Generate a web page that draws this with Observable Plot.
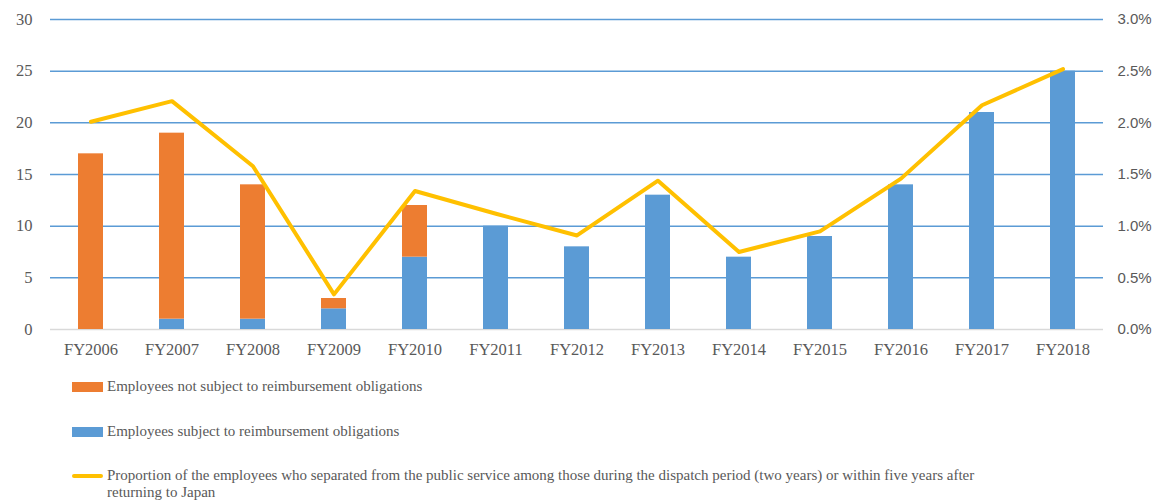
<!DOCTYPE html>
<html><head><meta charset="utf-8">
<script src="https://cdn.jsdelivr.net/npm/d3@7"></script>
<script src="https://cdn.jsdelivr.net/npm/@observablehq/plot@0.6"></script>
<style>
html,body{margin:0;padding:0;background:#fff;overflow:hidden;width:1153px;}
#legend{font-family:"Liberation Serif","Times New Roman",serif;font-size:15px;color:#595959;position:relative;}
.row{position:absolute;left:72px;display:flex;align-items:flex-start;}
.sw{width:31px;height:10px;margin-right:4px;flex:none;}
.ln{width:31px;height:4px;border-radius:2px;background:#ffc000;margin-right:4px;flex:none;}
</style></head>
<body>
<div id="chart"></div>
<div id="legend"></div>
<script>
const years = ["FY2006","FY2007","FY2008","FY2009","FY2010","FY2011","FY2012","FY2013","FY2014","FY2015","FY2016","FY2017","FY2018"];
const subject = [0,1,1,2,7,10,8,13,7,9,14,21,25];
const notSubject = [17,18,13,1,5,0,0,0,0,0,0,0,0];
const proportionPct = [2.01,2.21,1.58,0.34,1.34,1.12,0.91,1.44,0.75,0.95,1.46,2.17,2.52];
const leftTicks = [0,5,10,15,20,25,30];
const seriesNames = ["Employees not subject to reimbursement obligations","Employees subject to reimbursement obligations","Proportion of the employees who separated from the public service among those during the dispatch period (two years) or within five years after returning to Japan"];
const colors = {blue:"#5b9bd5", orange:"#ed7d31", gold:"#ffc000"};

const bars = [];
years.forEach((y,i)=>{
  bars.push({year:y, type:"subject", value:subject[i], order:0});
  bars.push({year:y, type:"not", value:notSubject[i], order:1});
});
const line = years.map((y,i)=>({year:y, pct:proportionPct[i]}));

const plot = Plot.plot({
  width:1153, height:364,
  marginLeft:50, marginRight:50, marginTop:19, marginBottom:35,
  style:{fontFamily:"'Liberation Serif','Times New Roman',serif", fontSize:"16.5px", color:"#595959", overflow:"visible"},
  x:{domain:years, paddingInner:0.69, paddingOuter:0.345, label:null},
  y:{domain:[0,30], label:null},
  color:{domain:["subject","not"], range:[colors.blue, colors.orange]},
  marks:[
    Plot.ruleY(leftTicks.filter(d=>d>0), {stroke:colors.blue, strokeWidth:1.5}),
    Plot.ruleY([0], {stroke:"#d9d9d9", strokeWidth:1.5}),
    Plot.barY(bars, {x:"year", y:"value", fill:"type", order:"order"}),
    Plot.line(line, {x:"year", y:d=>d.pct*10, stroke:colors.gold, strokeWidth:4, strokeLinejoin:"round", strokeLinecap:"round"}),
    Plot.axisY({anchor:"left", ticks:leftTicks, tickSize:0, tickPadding:18, fill:"#595959", label:null}),
    Plot.axisY({anchor:"right", ticks:leftTicks, tickSize:0, tickPadding:14, tickFormat:d=>(d/10).toFixed(1)+"%", fill:"#595959", label:null, fontFamily:"'Liberation Sans',Arial,sans-serif", fontSize:15}),
    Plot.axisX({tickSize:0, tickPadding:14, fill:"#595959", label:null})
  ]
});
document.getElementById("chart").appendChild(plot);

const lg = document.getElementById("legend");
lg.style.height = (503-364)+"px";
const rows = [
  {top:387-364, kind:"sw", color:colors.orange, text:seriesNames[0]},
  {top:432-364, kind:"sw", color:colors.blue, text:seriesNames[1]},
  {top:476-364, kind:"ln", color:colors.gold, text:seriesNames[2]}
];
rows.forEach(r=>{
  const row = document.createElement("div");
  row.className="row";
  row.style.top=(r.top-9)+"px";
  row.style.width="920px";
  const s=document.createElement("div");
  s.className=r.kind;
  if(r.kind==="sw"){s.style.background=r.color;s.style.marginTop="4px";} else {s.style.marginTop="7px";}
  const t=document.createElement("div");
  t.textContent=r.text;
  t.style.lineHeight="17px";
  row.appendChild(s);row.appendChild(t);
  lg.appendChild(row);
});
</script>
</body></html>
